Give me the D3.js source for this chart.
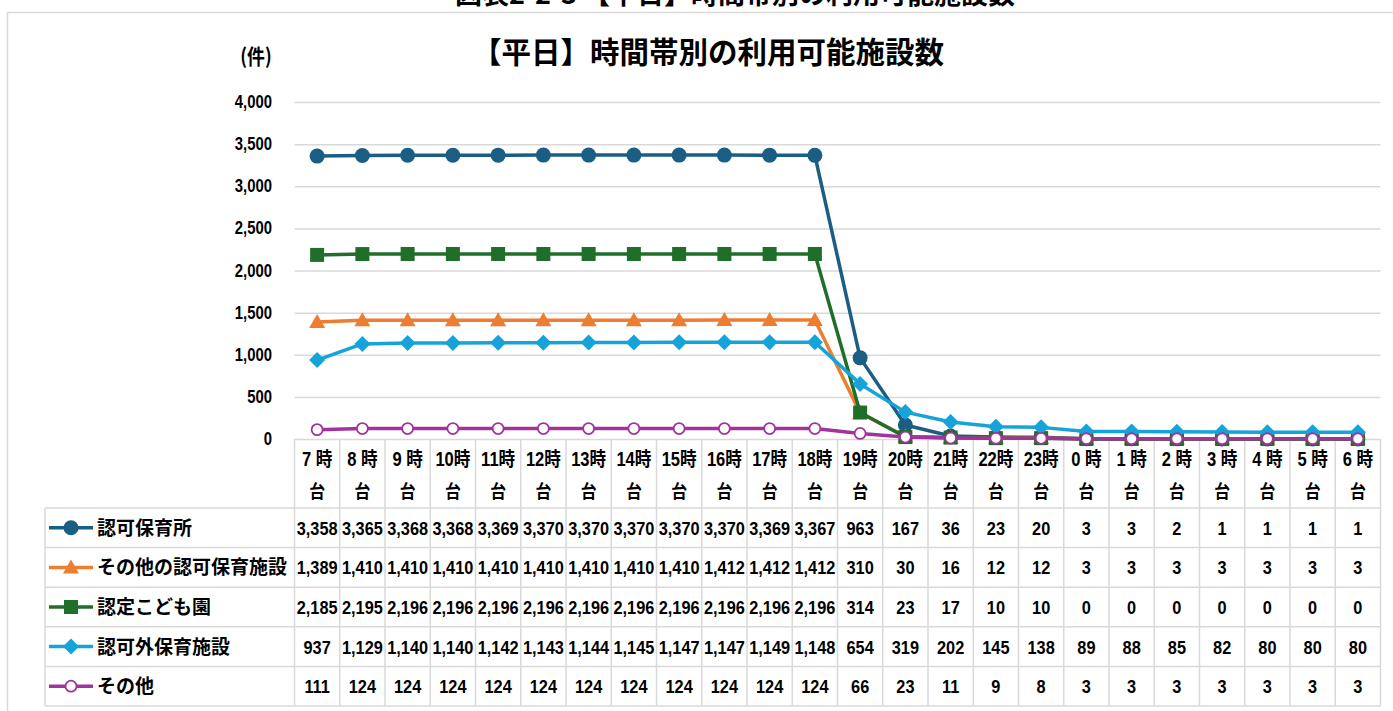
<!DOCTYPE html>
<html>
<head>
<meta charset="utf-8">
<script src="https://cdn.jsdelivr.net/npm/d3@7"></script>
<style>
  body { margin: 0; background: #fff; }
  text { font-family: "Liberation Sans Narrow", "Noto Sans CJK JP", sans-serif; font-weight: bold; fill: #000; }
  .jp { font-family: "Noto Sans CJK JP", sans-serif; }
  .num { font-family: "Liberation Sans", "Noto Sans CJK JP", sans-serif; }
</style>
</head>
<body>
<svg id="chart" width="1393" height="711"></svg>
<script>
// categories (時間帯)
var hours = ["7時","8時","9時","10時","11時","12時","13時","14時","15時","16時","17時","18時",
             "19時","20時","21時","22時","23時","0時","1時","2時","3時","4時","5時","6時"];
var seriesNames = ["認可保育所","その他の認可保育施設","認定こども園","認可外保育施設","その他"];

var ninka = [3358,3365,3368,3368,3369,3370,3370,3370,3370,3370,3369,3367,963,167,36,23,20,3,3,2,1,1,1,1];
var sonotaNinka = [1389,1410,1410,1410,1410,1410,1410,1410,1410,1412,1412,1412,310,30,16,12,12,3,3,3,3,3,3,3];
var kodomoen = [2185,2195,2196,2196,2196,2196,2196,2196,2196,2196,2196,2196,314,23,17,10,10,0,0,0,0,0,0,0];
var ninkagai = [937,1129,1140,1140,1142,1143,1144,1145,1147,1147,1149,1148,654,319,202,145,138,89,88,85,82,80,80,80];
var sonota = [111,124,124,124,124,124,124,124,124,124,124,124,66,23,11,9,8,3,3,3,3,3,3,3];

var yTicks = [0,500,1000,1500,2000,2500,3000,3500,4000];

var series = [
  {name: seriesNames[0], values: ninka, color: "#1b5e83", marker: "circle"},
  {name: seriesNames[1], values: sonotaNinka, color: "#ed7d31", marker: "triangle"},
  {name: seriesNames[2], values: kodomoen, color: "#1f6e2a", marker: "square"},
  {name: seriesNames[3], values: ninkagai, color: "#15a3da", marker: "diamond"},
  {name: seriesNames[4], values: sonota, color: "#a2339c", marker: "open"}
];

var svg = d3.select("#chart");
var fmt = d3.format(",");

var plotLeft = 294.5, plotRight = 1380.5, plotTop = 102, plotBottom = 439;
var tableLeft = 45, headerBottom = 508, rowH = 39.6;

var x = d3.scaleBand().domain(hours).range([plotLeft, plotRight]).padding(0);
var y = d3.scaleLinear().domain([0, 4000]).range([plotBottom, plotTop]);
function cx(i) { return x(hours[i]) + x.bandwidth() / 2; }

// narrow text helper (squeezed horizontally like the original condensed font)
function narrow(g, px, py, size, str, sx, cls) {
  return g.append("text").attr("class", cls || "num")
    .attr("transform", "translate(" + px + "," + py + ") scale(" + sx + ",1)")
    .attr("text-anchor", "middle").style("font-size", size + "px").text(str);
}

// cut-off figure caption on top
svg.append("text").attr("class", "jp").attr("x", 735).attr("y", 4)
  .attr("text-anchor", "middle").style("font-size", "27px")
  .text("図表2-2-3 【平日】時間帯別の利用可能施設数");

// chart frame
svg.append("rect").attr("x", 7.5).attr("y", 12.5).attr("width", 1400).attr("height", 720)
  .attr("fill", "#fff").attr("stroke", "#d9d9d9").attr("stroke-width", 1.5);

svg.append("text").attr("class", "jp")
  .attr("transform", "translate(708,63)")
  .attr("text-anchor", "middle").style("font-size", "29.5px")
  .text("【平日】時間帯別の利用可能施設数");

narrow(svg, 256, 64, 21, "(件)", 0.85, "jp");

// gridlines + y axis
var yAxis = d3.axisLeft(y).tickValues(yTicks).tickSize(-(plotRight - plotLeft)).tickFormat(fmt).tickPadding(22);
var gy = svg.append("g").attr("transform", "translate(" + plotLeft + ",0)").call(yAxis);
gy.select(".domain").remove();
gy.selectAll(".tick line").attr("stroke", "#d9d9d9").attr("stroke-width", 1.5);
gy.selectAll(".tick text").remove();
yTicks.forEach(function(t) {
  svg.append("text").attr("class", "num")
    .attr("transform", "translate(272," + (y(t) + 6) + ") scale(0.85,1)")
    .attr("text-anchor", "end").style("font-size", "17.5px").text(fmt(t));
});

// data table grid
var tableBottom = headerBottom + rowH * series.length;
var grid = svg.append("g").attr("stroke", "#d9d9d9").attr("stroke-width", 1.5);
hours.forEach(function(h) {
  grid.append("line").attr("x1", x(h)).attr("x2", x(h)).attr("y1", plotBottom).attr("y2", tableBottom);
});
grid.append("line").attr("x1", plotRight).attr("x2", plotRight).attr("y1", plotBottom).attr("y2", tableBottom);
grid.append("line").attr("x1", tableLeft).attr("x2", tableLeft).attr("y1", headerBottom).attr("y2", tableBottom);
for (var r = 0; r <= series.length; r++) {
  grid.append("line").attr("x1", tableLeft).attr("x2", plotRight)
    .attr("y1", headerBottom + r * rowH).attr("y2", headerBottom + r * rowH);
}

// category header
var hdr = svg.append("g");
hours.forEach(function(h, i) {
  var label = h.length === 2 ? h.charAt(0) + " " + h.charAt(1) : h;
  narrow(hdr, cx(i), 466, 19.5, label, 0.85);
  narrow(hdr, cx(i), 498, 18, "台", 0.88, "jp");
});

function drawMarker(g, s, px, py) {
  if (s.marker === "circle") {
    g.append("circle").attr("cx", px).attr("cy", py).attr("r", 7.5).attr("fill", s.color);
  } else if (s.marker === "triangle") {
    g.append("path").attr("d", "M" + px + "," + (py - 8) + "L" + (px + 8) + "," + (py + 6) + "L" + (px - 8) + "," + (py + 6) + "Z")
      .attr("fill", s.color);
  } else if (s.marker === "square") {
    g.append("rect").attr("x", px - 7).attr("y", py - 7).attr("width", 14).attr("height", 14).attr("fill", s.color);
  } else if (s.marker === "diamond") {
    g.append("path").attr("d", "M" + px + "," + (py - 8) + "L" + (px + 8) + "," + py + "L" + px + "," + (py + 8) + "L" + (px - 8) + "," + py + "Z")
      .attr("fill", s.color);
  } else {
    g.append("circle").attr("cx", px).attr("cy", py).attr("r", 5.5).attr("fill", "#fff")
      .attr("stroke", s.color).attr("stroke-width", 1.8);
  }
}

// lines
var line = d3.line().x(function(d, i) { return cx(i); }).y(function(d) { return y(d); });
series.forEach(function(s) {
  var g = svg.append("g");
  g.append("path").datum(s.values).attr("d", line).attr("fill", "none")
    .attr("stroke", s.color).attr("stroke-width", 3.5).attr("stroke-linejoin", "round");
  s.values.forEach(function(v, i) { drawMarker(g, s, cx(i), y(v)); });
});

// table rows
series.forEach(function(s, r) {
  var yc = headerBottom + r * rowH + rowH / 2;
  var g = svg.append("g");
  g.append("line").attr("x1", 49).attr("x2", 93).attr("y1", yc).attr("y2", yc)
    .attr("stroke", s.color).attr("stroke-width", 3.5);
  drawMarker(g, s, 71, yc);
  g.append("text").attr("class", "jp")
    .attr("transform", "translate(97," + (yc + 7) + ")")
    .style("font-size", "19px").text(s.name);
  s.values.forEach(function(v, i) {
    narrow(g, cx(i), yc + 7, 19, fmt(v), 0.86);
  });
});
</script>
</body>
</html>
